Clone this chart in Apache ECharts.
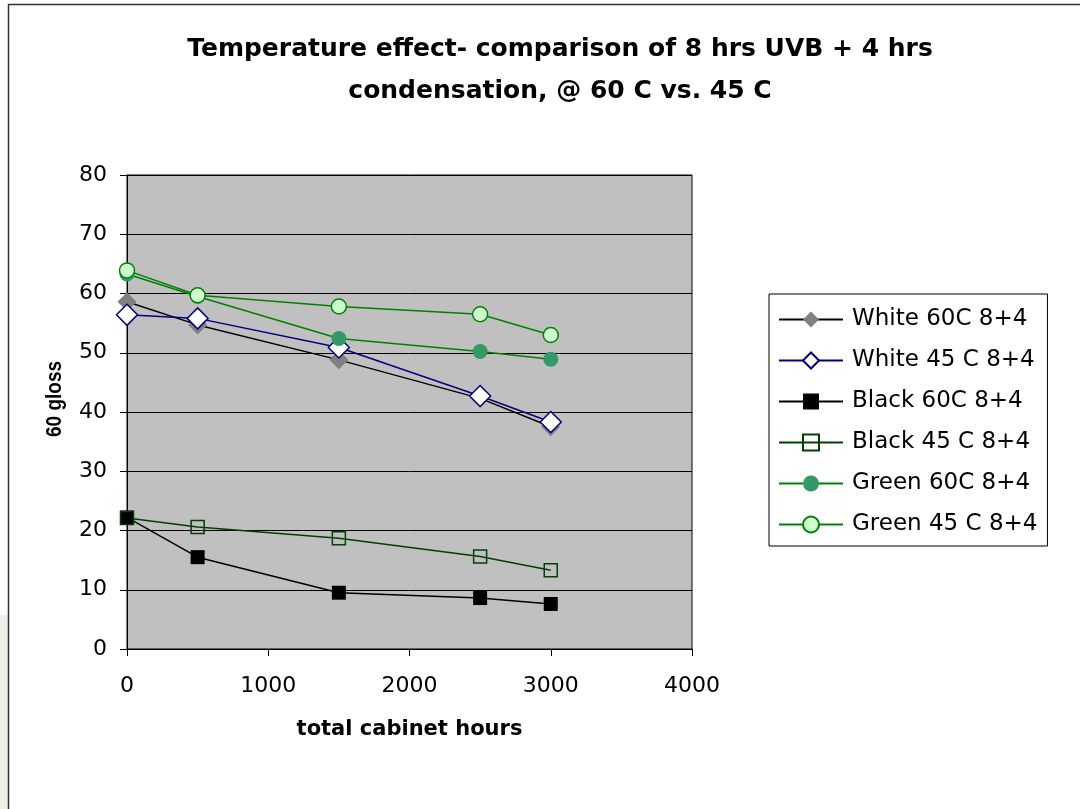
<!DOCTYPE html>
<html>
<head>
<meta charset="utf-8">
<title>Temperature effect - 60 gloss vs cabinet hours</title>
<script src="https://cdn.jsdelivr.net/npm/echarts@6/dist/echarts.min.js"></script>
<style>
  html, body { margin: 0; padding: 0; background: #ffffff; }
  #chart { width: 1080px; height: 809px; }
</style>
</head>
<body>
<div id="chart"></div>
<script>
// Exposure time in the cabinet (hours)
const hours = [0, 500, 1500, 2500, 3000];

// 60 degree gloss readings per panel / temperature
const white60 = [58.6, 54.7, 48.8, 42.3, 37.5];
const white45 = [56.4, 55.8, 50.9, 42.7, 38.3];
const black60 = [22.2, 15.5, 9.5, 8.6, 7.6];
const black45 = [22.1, 20.6, 18.7, 15.6, 13.3];
const green60 = [63.3, 59.5, 52.4, 50.2, 48.9];
const green45 = [63.9, 59.7, 57.8, 56.5, 53.0];

const seriesNames = [
  'White 60C 8+4', 'White 45 C 8+4', 'Black 60C 8+4',
  'Black 45 C 8+4', 'Green 60C 8+4', 'Green 45 C 8+4'
];

const titleText = 'Temperature effect- comparison of 8 hrs UVB + 4 hrs\ncondensation, @ 60 C vs. 45 C';
const xName = 'total cabinet hours';
const yName = '60 gloss';

const WIDE = '"DejaVu Sans", Verdana, sans-serif';

function pairs(values) {
  return hours.map((h, i) => [h, values[i]]);
}

function lineSeries(name, values, lineColor, symbol, size, fill, border) {
  return {
    name: name,
    type: 'line',
    data: pairs(values),
    symbol: symbol,
    symbolSize: size,
    showAllSymbol: true,
    lineStyle: { color: lineColor, width: 1.5 },
    itemStyle: { color: fill, borderColor: border, borderWidth: border ? 1.5 : 0 },
    emphasis: { disabled: true },
    animation: false
  };
}

const chart = echarts.init(document.getElementById('chart'), null, { renderer: 'canvas' });

chart.setOption({
  backgroundColor: '#ffffff',
  animation: false,
  textStyle: { fontFamily: WIDE, color: '#000' },
  title: {
    text: titleText,
    left: 555,
    top: 23,
    textAlign: 'center',
    textStyle: { fontFamily: WIDE, fontSize: 25, fontWeight: 'bold', color: '#000', lineHeight: 42 }
  },
  graphic: [
    {
      type: 'rect', z: -10, silent: true,
      shape: { x: 0, y: 615, width: 8, height: 200 },
      style: { fill: '#f1f0e8' }
    },
    {
      type: 'rect', z: -5, silent: true,
      shape: { x: 8.5, y: 4.5, width: 1200, height: 900 },
      style: { fill: 'none', stroke: '#333', lineWidth: 1.5 }
    },
    {
      // vertical axis title, widened slightly across its line height
      type: 'text', silent: true,
      x: 55, y: 399, rotation: Math.PI / 2, scaleY: 1.2,
      style: {
        text: yName, align: 'center', verticalAlign: 'middle',
        font: 'bold 19px "Liberation Sans", Arial, sans-serif', fill: '#000'
      }
    }
  ],
  grid: {
    left: 127, top: 175, width: 565, height: 474,
    show: true, backgroundColor: '#c0c0c0', borderColor: '#000', borderWidth: 1
  },
  legend: {
    orient: 'vertical',
    left: 769, top: 294,
    data: seriesNames,
    itemWidth: 64, itemHeight: 20, itemGap: 21 - 3,
    padding: [14, 10, 10, 9],
    backgroundColor: '#ffffff',
    borderColor: '#000', borderWidth: 1,
    textStyle: { fontFamily: WIDE, fontSize: 23, color: '#000', padding: [0, 0, 0, 4] },
    selectedMode: false
  },
  xAxis: {
    type: 'value', min: 0, max: 4000, interval: 1000,
    name: xName, nameLocation: 'middle', nameGap: 70,
    nameTextStyle: { fontFamily: WIDE, fontSize: 21, fontWeight: 'bold', color: '#000' },
    axisLine: { show: true, onZero: false, lineStyle: { color: '#000', width: 1 } },
    axisTick: { show: true, length: 7, lineStyle: { color: '#000' } },
    axisLabel: { fontFamily: WIDE, fontSize: 22, color: '#000', margin: 26, formatter: v => String(v) },
    splitLine: { show: false }
  },
  yAxis: {
    type: 'value', min: 0, max: 80, interval: 10,
    axisLine: { show: true, lineStyle: { color: '#000', width: 1 } },
    axisTick: { show: true, length: 7, lineStyle: { color: '#000' } },
    axisLabel: { fontFamily: WIDE, fontSize: 22, color: '#000', margin: 20 },
    splitLine: { show: true, lineStyle: { color: '#000', width: 1 } }
  },
  series: [
    lineSeries(seriesNames[0], white60, '#000000', 'diamond', 19, '#808080', null),
    lineSeries(seriesNames[1], white45, '#000080', 'diamond', 21, '#ffffff', '#000080'),
    lineSeries(seriesNames[2], black60, '#000000', 'rect', 14, '#000000', null),
    lineSeries(seriesNames[3], black45, '#004000', 'rect', 13, 'rgba(0,0,0,0)', '#004000'),
    lineSeries(seriesNames[4], green60, '#008000', 'circle', 15, '#339966', null),
    lineSeries(seriesNames[5], green45, '#008000', 'circle', 15, '#ccffcc', '#008000')
  ]
});
</script>
</body>
</html>
